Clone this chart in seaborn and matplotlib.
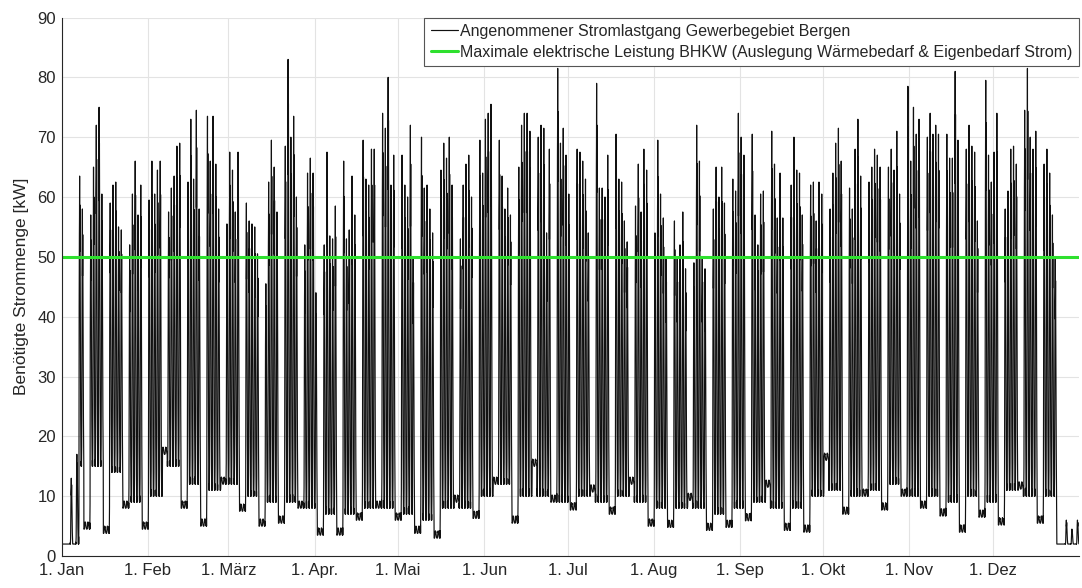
import numpy as np
import pandas as pd
import matplotlib
matplotlib.use("Agg")
import matplotlib.pyplot as plt
import seaborn as sns

# ---------------------------------------------------------------- data
year_start = "2016-01-01"
year_end = "2017-01-01"
first_monday = "2016-01-04"

month_labels = ["1. Jan", "1. Feb", "1. März", "1. Apr.", "1. Mai", "1. Jun",
                "1. Jul", "1. Aug", "1. Sep", "1. Okt", "1. Nov", "1. Dez"]

# daily peak load Mon..Fri for each calendar week (kW)
weekday_peaks = [
    [13, 2.5, 17, 63.5, 58],
    [57, 65, 72, 75, 60.5],
    [59, 62, 62.5, 55, 54.5],
    [52, 60.5, 66, 57, 62],
    [59.5, 66, 60.5, 64.5, 66],
    [57.5, 61.5, 63.5, 68.5, 69],
    [62.5, 73, 63, 74.5, 58],
    [73.5, 66, 73.5, 65.5, 58],
    [55.5, 67.5, 64.5, 57.5, 67.5],
    [59, 56, 55.5, 55, 50.5],
    [45.5, 62.5, 69.5, 65, 57.5],
    [68.5, 83, 70, 73.5, 60],
    [52, 64, 66.5, 64, 44],
    [52, 67.5, 53.5, 53, 58.5],
    [66, 53, 54.5, 63.5, 57],
    [69.5, 63, 62, 68, 68],
    [74, 71.5, 80, 62, 67],
    [67, 62, 60, 72, 50],
    [70, 61.5, 62, 58, 54],
    [64.5, 69, 66.5, 70, 62],
    [53, 62, 65.5, 67, 60],
    [69.5, 64, 73, 74, 75.5],
    [69.5, 63.5, 58, 61.5, 57],
    [65, 72, 74, 74, 71],
    [70, 72, 71.5, 54, 68],
    [81.5, 69, 71.5, 67, 60.5],
    [68, 67.5, 66, 63, 54],
    [79, 61.5, 61.5, 60, 67],
    [70.5, 63, 62.5, 56, 52.5],
    [58.5, 65.5, 57.5, 68, 64.5],
    [54, 69.5, 60.5, 56.5, 50],
    [56, 50, 52, 57.5, 48],
    [49, 72, 66, 50, 48],
    [58, 65, 60, 65, 59],
    [63, 61, 74, 70, 67],
    [70.5, 57, 52, 60.5, 61],
    [71, 65.5, 56.5, 64, 56.5],
    [62, 70, 64.5, 64, 57],
    [62, 62.5, 56, 62.5, 60.5],
    [58, 64, 69, 71.5, 66],
    [61.5, 58, 68, 73, 63.5],
    [62.5, 65, 68, 67, 65],
    [65, 68, 64.5, 71, 60.5],
    [78.5, 66, 75, 70.5, 73],
    [70, 74, 70.5, 72, 70.5],
    [70.5, 66.5, 66.5, 81, 69.5],
    [68, 72, 68.5, 67.5, 56],
    [79.5, 67, 62.5, 67.5, 74],
    [58, 61, 68, 68.5, 65.5],
    [74.5, 81.5, 70, 68, 71],
    [65.5, 68, 64, 57, 50],
]

# night-time load after working days for each week (kW)
weekday_night = [15, 15, 14, 9, 10, 15, 12, 11, 12, 10, 9, 9, 8, 7, 7, 8,
                 8, 7, 6, 8, 8, 10, 12, 10, 10, 9, 10, 9, 10, 9, 8, 8,
                 8, 7, 8, 9, 8, 8, 10, 11, 10, 11, 12, 10, 10, 9, 10, 9,
                 11, 10, 10]

# load level over the weekend following each week (kW)
weekend_level = [4.5, 3.8, 8, 4.5, 17, 8, 5, 12, 7.5, 5, 5.5, 8, 3.5, 3.5,
                 6, 8, 6, 3.8, 3, 9, 6.3, 12, 5.5, 15, 9, 7.7, 10.7, 7, 12,
                 5, 4.8, 9.3, 4.3, 4.8, 5.9, 11.5, 4.3, 4, 16, 7, 10, 7.7,
                 10, 8, 6.7, 4, 6.5, 5.2, 11.2, 5.5]

# company holidays at the turn of the year
holiday_level = 2.0
holidays_start = ["2016-01-01", "2016-01-05"]
holidays_end = ["2016-12-24", "2016-12-31"]
holiday_peaks = {"2016-01-04": 13.0, "2016-01-06": 17.0, "2016-12-27": 6.0,
                 "2016-12-29": 4.5, "2016-12-31": 6.0}
weekend_swing = 1.2

# hourly shape of a day: share of the span between night level and peak
day_shape = [0.00, 0.00, 0.02, 0.00, 0.03, 0.08, 0.30, 0.55, 0.72, 0.80,
             0.86, 1.00, 0.74, 0.82, 0.90, 0.76, 0.60, 0.45, 0.34, 0.26,
             0.18, 0.10, 0.05, 0.01]
morning_hours = 6   # hours before the shift starts still carry the previous night

bhkw_max = 50.0

label_load = "Angenommener Stromlastgang Gewerbegebiet Bergen"
label_bhkw = ("Maximale elektrische Leistung BHKW "
              "(Auslegung Wärmebedarf & Eigenbedarf Strom)")

# ------------------------------------------------- hourly load profile
days = pd.date_range(year_start, year_end, freq="D", inclusive="left")
n_days = len(days)
base = pd.Series(holiday_level, index=days, dtype=float)
top = pd.Series(holiday_level, index=days, dtype=float)

monday0 = pd.Timestamp(first_monday)
for w, peaks in enumerate(weekday_peaks):
    monday = monday0 + pd.Timedelta(days=7 * w)
    for i, p in enumerate(peaks):
        d = monday + pd.Timedelta(days=i)
        base[d] = weekday_night[w]
        top[d] = p
    if w < len(weekend_level):
        for i in (5, 6):
            d = monday + pd.Timedelta(days=i)
            base[d] = weekend_level[w]
            top[d] = weekend_level[w] + weekend_swing

for a, b in (holidays_start, holidays_end):
    span = (days >= pd.Timestamp(a)) & (days <= pd.Timestamp(b))
    base[span] = holiday_level
    top[span] = holiday_level
for d, p in holiday_peaks.items():
    base[pd.Timestamp(d)] = holiday_level
    top[pd.Timestamp(d)] = p

shape = np.asarray(day_shape)
b = base.values
t = top.values
b_prev = np.concatenate([[b[0]], b[:-1]])
# early hours continue the level of the night before
morning = np.minimum(b_prev, b)
grid = b[:, None] + (t - b)[:, None] * shape[None, :]
grid[:, :morning_hours] = (morning[:, None]
                           + (t - morning)[:, None] * shape[None, :morning_hours])
hourly = grid.ravel()
hours = pd.date_range(year_start, periods=n_days * 24, freq="h")
load = pd.DataFrame({"Zeit": hours, "Last": hourly})
bhkw = pd.DataFrame({"Zeit": [pd.Timestamp(year_start), pd.Timestamp(year_end)],
                     "Leistung": [bhkw_max, bhkw_max]})

# --------------------------------------------------------------- plot
sns.set_theme(style="whitegrid")
plt.rcParams["font.family"] = ["Liberation Sans", "DejaVu Sans"]
text_col = "#262626"

fig = plt.figure(figsize=(10.82, 5.88), dpi=100)
ax = fig.add_axes([0.057, 0.0544, 0.9402, 0.9158])

sns.lineplot(data=load, x="Zeit", y="Last", color="#111111", linewidth=0.85,
             estimator=None, ax=ax, label=label_load)
sns.lineplot(data=bhkw, x="Zeit", y="Leistung", color="#2ee02e",
             linewidth=2.2, estimator=None, ax=ax, label=label_bhkw)

ax.set_xlim(pd.Timestamp(year_start), pd.Timestamp(year_end))
ax.set_ylim(0, 90)
ax.set_yticks(range(0, 91, 10))
ax.set_xticks(pd.date_range(year_start, periods=12, freq="MS"))
ax.set_xticklabels(month_labels)

ax.set_xlabel("")
ax.set_ylabel("Benötigte Strommenge [kW]", fontsize=12.5, color=text_col,
              labelpad=6)
ax.tick_params(axis="both", direction="in", length=5, width=0.8,
               labelsize=12, colors=text_col, pad=4)
ax.tick_params(axis="x", pad=5)
ax.grid(True, color="#e3e3e3", linewidth=0.8)
for side in ("top", "right"):
    ax.spines[side].set_visible(False)
for side in ("left", "bottom"):
    ax.spines[side].set_color(text_col)
    ax.spines[side].set_linewidth(0.8)

leg = ax.legend(loc="upper right", borderaxespad=0.0, fontsize=11.5,
                frameon=True, fancybox=False, edgecolor="#555555",
                framealpha=1.0, handlelength=1.7, handletextpad=0.15,
                labelspacing=0.35, borderpad=0.4)
leg.get_frame().set_linewidth(0.8)
for txt in leg.get_texts():
    txt.set_color(text_col)

fig.savefig("out.png", dpi=100)
